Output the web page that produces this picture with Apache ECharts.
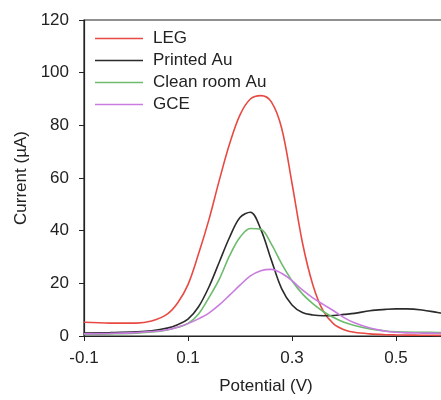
<!DOCTYPE html>
<html>
<head>
<meta charset="utf-8">
<script src="https://cdn.jsdelivr.net/npm/echarts@6/dist/echarts.min.js"></script>
<style>
  html, body { margin: 0; padding: 0; overflow: hidden; background: #fff; }
  #chart { width: 448px; height: 400px; }
</style>
</head>
<body>
<div id="chart"></div>
<script>
// potential (V)
const potential = [-0.1, -0.05, 0, 0.03, 0.06, 0.08, 0.1, 0.12, 0.14, 0.16, 0.18, 0.2, 0.22, 0.24, 0.26, 0.28, 0.3, 0.32, 0.34, 0.36, 0.38, 0.4, 0.42, 0.45, 0.48, 0.5, 0.52, 0.55, 0.58, 0.6];

// current (uA) for each electrode
const leg = [5.2, 4.9, 4.9, 5.7, 8.3, 12.5, 19.5, 31, 44, 59, 73, 84, 90, 91.3, 89, 79, 58, 35.5, 19.5, 9.5, 4.6, 2.4, 1.4, 0.8, 0.5, 0.4, 0.35, 0.3, 0.25, 0.2];
const printedAu = [1.1, 1.3, 1.6, 2.0, 3.0, 4.3, 6.4, 11.0, 18.5, 28, 37.5, 45, 47.0, 40.5, 29, 18, 11.8, 8.9, 8.0, 7.7, 7.8, 8.2, 8.6, 9.6, 10.1, 10.3, 10.3, 9.9, 8.9, 8.2];
const cleanRoomAu = [0.6, 0.8, 1.1, 1.5, 2.3, 3.3, 4.8, 8.3, 14.5, 21.5, 30.5, 37.5, 40.8, 40.5, 35, 27.5, 21, 16, 12.3, 9.3, 7.0, 5.2, 4.0, 2.7, 1.9, 1.6, 1.5, 1.4, 1.35, 1.3];
const gce = [0.8, 1.0, 1.3, 1.7, 2.4, 3.3, 4.7, 6.5, 8.7, 11.8, 15.5, 19.3, 22.8, 24.8, 25.3, 23.8, 21, 17.5, 14.5, 12, 9.6, 7.0, 5.0, 3.0, 1.8, 1.4, 1.2, 1.1, 1.05, 1.0];

const xTicks = [-0.1, 0.1, 0.3, 0.5];

const names = ['LEG', 'Printed Au', 'Clean room Au', 'GCE'];
const colors = ['#e84a43', '#2b2b2b', '#6dbb6d', '#c97be0'];
const values = [leg, printedAu, cleanRoomAu, gce];

const font = '"Liberation Sans", Arial, sans-serif';

const series = values.map((vals, i) => ({
  name: names[i],
  type: 'line',
  smooth: 0.35,
  symbol: 'none',
  lineStyle: { color: colors[i], width: 1.6 },
  itemStyle: { color: colors[i] },
  data: potential.map((x, j) => [x, vals[j]]),
}));

const option = {
  animation: false,
  grid: {
    left: 84,
    top: 20,
    right: 0,
    bottom: 61,
    show: true,
    borderColor: '#222',
    borderWidth: 1.2,
  },
  legend: {
    orient: 'vertical',
    left: 95,
    top: 30,
    icon: 'rect',
    itemWidth: 48,
    itemHeight: 1.6,
    itemGap: 5,
    padding: 0,
    textStyle: { fontFamily: font, fontSize: 17, color: '#222', padding: [0, 0, 0, 5] },
    data: names,
  },
  xAxis: {
    type: 'value',
    min: -0.1,
    max: 0.6,
    name: 'Potential (V)',
    nameLocation: 'middle',
    nameGap: 42,
    nameTextStyle: { fontFamily: font, fontSize: 17, color: '#222' },
    axisLine: { onZero: false, lineStyle: { color: '#222', width: 1.2 } },
    axisTick: { inside: false, length: 5, customValues: xTicks, lineStyle: { color: '#222' } },
    axisLabel: {
      customValues: xTicks,
      margin: 14,
      fontFamily: font,
      fontSize: 17,
      color: '#222',
      formatter: (v) => v.toFixed(1),
    },
    splitLine: { show: false },
  },
  yAxis: {
    type: 'value',
    min: 0,
    max: 120,
    interval: 20,
    name: 'Current (µA)',
    nameLocation: 'middle',
    nameGap: 53,
    nameTextStyle: { fontFamily: font, fontSize: 17, color: '#222' },
    axisLine: { show: true, onZero: false, lineStyle: { color: '#222', width: 1.2 } },
    axisTick: { show: true, inside: false, length: 5, lineStyle: { color: '#222' } },
    axisLabel: { margin: 15, fontFamily: font, fontSize: 17, color: '#222' },
    splitLine: { show: false },
  },
  series,
};

const chart = echarts.init(document.getElementById('chart'));
chart.setOption(option);
</script>
</body>
</html>
